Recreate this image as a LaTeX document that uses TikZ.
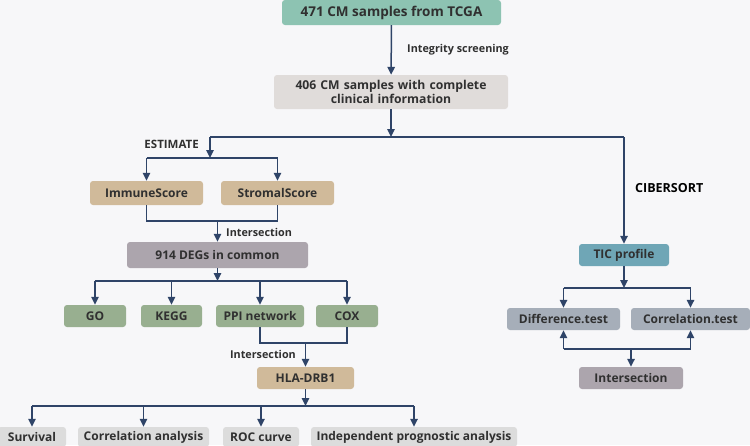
\documentclass[tikz,border=0pt]{standalone}
\usepackage{fontspec}
\setmainfont{Open Sans}
\usetikzlibrary{arrows.meta}
\definecolor{bgcol}{HTML}{F7F7F9}
\definecolor{linecol}{HTML}{2F4468}
\definecolor{txtcol}{HTML}{303030}
\definecolor{teal}{HTML}{8DC3B2}
\definecolor{pale}{HTML}{E0DCDA}
\definecolor{tan}{HTML}{D0BA9A}
\definecolor{mauve}{HTML}{ACA5AD}
\definecolor{sage}{HTML}{98AF90}
\definecolor{ticblue}{HTML}{6FA6B6}
\definecolor{slate}{HTML}{A6AEB9}
\definecolor{light}{HTML}{DCDCDC}
\tikzset{
  box/.style={rounded corners=3pt, inner sep=0pt, align=center, text=txtcol,
    font=\fontsize{12}{14}\selectfont\bfseries, minimum height=22pt},
  link/.style={draw=linecol, line width=1.5pt},
  tolink/.style={link, -{Triangle[length=8pt,width=7.5pt]}},
  lbl/.style={text=txtcol, font=\fontsize{10.8}{13}\selectfont\bfseries, inner sep=0pt}
}

\begin{document}
\begin{tikzpicture}[x=1pt, y=-1pt]
	%%%%% START %%%%%
	\useasboundingbox (0,0) rectangle (750,445);
	\fill[bgcol] (0,0) rectangle (750,445);
	
	% top part
	\node[box, fill=teal, minimum width=219pt, minimum height=25pt,
	      font=\fontsize{13.5}{15}\selectfont\bfseries] (tcga) at (391.5,12.5) {471 CM samples from TCGA};
	\node[box, fill=pale, minimum width=234pt, minimum height=34pt, text width=234pt,
	      font=\fontsize{12.2}{14.5}\selectfont\bfseries] (clin) at (391,92)
	      {406 CM samples with complete\\clinical information};
	\draw[tolink] (tcga) -- (clin);
	\node[lbl, anchor=west] (integ) at (407,50) {Integrity screening};
	
	\coordinate (split) at (391,137);
	\coordinate (estleft) at (210,137);
	\coordinate (cibright) at (624,137);
	\draw[tolink] (clin) -- (split);
	\draw[link] (estleft) -- (cibright);
	
	% ESTIMATE branch
	\node[box, fill=tan, minimum width=113pt, minimum height=24pt] (immune) at (146.5,193) {ImmuneScore};
	\node[box, fill=tan, minimum width=113pt, minimum height=24pt] (stromal) at (277.5,193) {StromalScore};
	\coordinate (estsplit) at (210,158);
	\draw[tolink] (estleft) -- (estsplit);
	\node[lbl, anchor=east, font=\fontsize{11.5}{13}\selectfont\bfseries] (est) at (199,144) {ESTIMATE};
	\draw[link] (immune.north |- estsplit) -- (stromal.north |- estsplit);
	\draw[tolink] (immune.north |- estsplit) -- (immune.north);
	\draw[tolink] (stromal.north |- estsplit) -- (stromal.north);
	
	\node[box, fill=mauve, minimum width=181pt, minimum height=26pt] (degs) at (217.5,255) {914 DEGs in common};
	\coordinate (scorejoin) at (217.5,221);
	\draw[link] (immune.south) |- (scorejoin) -| (stromal.south);
	\draw[tolink] (scorejoin) -- (degs);
	\node[lbl, anchor=west] (inter1) at (226,232) {Intersection};
	
	% enrichment boxes
	\node[box, fill=sage, minimum width=62pt] (go) at (95,316) {GO};
	\node[box, fill=sage, minimum width=61pt] (kegg) at (171.5,316) {KEGG};
	\node[box, fill=sage, minimum width=88pt] (ppi) at (260,316) {PPI network};
	\node[box, fill=sage, minimum width=62pt] (cox) at (347,316) {COX};
	\coordinate (degsplit) at (217.5,281);
	\draw[tolink] (degs) -- (degsplit);
	\draw[link] (go.north |- degsplit) -- (cox.north |- degsplit);
	\foreach \n in {go,kegg,ppi,cox}
		\draw[tolink] (\n.north |- degsplit) -- (\n.north);
	
	\node[box, fill=tan, minimum width=97pt] (hla) at (305.5,378) {HLA-DRB1};
	\coordinate (coxjoin) at (305.5,343);
	\draw[link] (ppi.south) |- (coxjoin) -| (cox.south);
	\draw[tolink] (coxjoin) -- (hla);
	\node[lbl, anchor=east] (inter2) at (296,354) {Intersection};
	
	% bottom row
	\node[box, fill=light, minimum width=68pt, minimum height=20pt] (surv) at (32,437) {Survival};
	\node[box, fill=light, minimum width=131pt, minimum height=20pt] (corran) at (143.5,437) {Correlation analysis};
	\node[box, fill=light, minimum width=76pt, minimum height=20pt] (roc) at (261,437) {ROC curve};
	\node[box, fill=light, minimum width=206pt, minimum height=20pt] (indep) at (414,437) {Independent prognostic analysis};
	\coordinate (hlasplit) at (305.5,406);
	\draw[tolink] (hla) -- (hlasplit);
	\draw[link] (surv.north |- hlasplit) -- (indep.north |- hlasplit);
	\foreach \n in {surv,corran,roc,indep}
		\draw[tolink] (\n.north |- hlasplit) -- (\n.north);
	
	% CIBERSORT branch
	\node[box, fill=ticblue, minimum width=90pt] (tic) at (624,255) {TIC profile};
	\draw[tolink] (cibright) -- (tic);
	\node[lbl, anchor=west, text=black, font=\fontsize{12.5}{14}\selectfont\bfseries] (cib) at (635,188) {CIBERSORT};
	
	\node[box, fill=slate, minimum width=113pt] (difft) at (563.5,319) {Difference.test};
	\node[box, fill=slate, minimum width=119pt] (corrt) at (690.5,319) {Correlation.test};
	\coordinate (ticsplit) at (624,288);
	\draw[tolink] (tic) -- (ticsplit);
	\draw[link] (difft.north |- ticsplit) -- (corrt.north |- ticsplit);
	\draw[tolink] (difft.north |- ticsplit) -- (difft.north);
	\draw[tolink] (corrt.north |- ticsplit) -- (corrt.north);
	
	\node[box, fill=mauve, minimum width=104pt] (inter) at (631,378) {Intersection};
	\coordinate (testjoin) at (631,349);
	\draw[link] (difft.south |- testjoin) -- (corrt.south |- testjoin);
	\draw[tolink] (difft.south |- testjoin) -- (difft.south);
	\draw[tolink] (corrt.south |- testjoin) -- (corrt.south);
	\draw[tolink] (testjoin) -- (inter);
	
	%%%%% END %%%%%
\end{tikzpicture}
\end{document}
